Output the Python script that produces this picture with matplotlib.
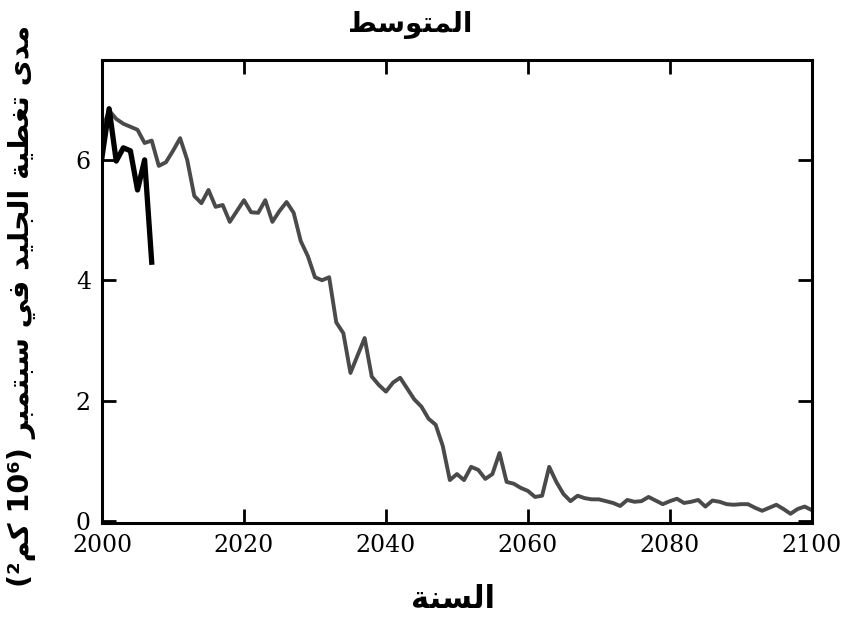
import matplotlib
matplotlib.use('Agg')
import matplotlib.pyplot as plt

# model mean, september ice extent (10^6 km2)
years = list(range(2000, 2101))
model_mean = [
    6.50, 6.82, 6.68, 6.60, 6.55, 6.50, 6.28, 6.32, 5.90, 5.96,
    6.15, 6.36, 6.00, 5.40, 5.28, 5.50, 5.22, 5.25, 4.97, 5.15,
    5.33, 5.13, 5.12, 5.33, 4.97, 5.15, 5.30, 5.12, 4.65, 4.40,
    4.05, 4.00, 4.05, 3.30, 3.12, 2.46, 2.75, 3.04, 2.40, 2.26,
    2.15, 2.30, 2.38, 2.20, 2.02, 1.90, 1.70, 1.60, 1.25, 0.68,
    0.78, 0.68, 0.90, 0.85, 0.70, 0.78, 1.13, 0.65, 0.62, 0.55,
    0.50, 0.40, 0.42, 0.90, 0.65, 0.45, 0.33, 0.42, 0.38, 0.36,
    0.36, 0.33, 0.30, 0.25, 0.35, 0.32, 0.33, 0.40, 0.34, 0.28,
    0.33, 0.37, 0.30, 0.32, 0.35, 0.24, 0.34, 0.32, 0.28, 0.27,
    0.28, 0.28, 0.22, 0.17, 0.22, 0.27, 0.20, 0.12, 0.20, 0.24,
    0.18,
]

# observations
obs_years = [2000, 2001, 2002, 2003, 2004, 2005, 2006, 2007]
observed = [6.05, 6.85, 5.98, 6.20, 6.15, 5.50, 6.00, 4.30]

xticks = [2000, 2020, 2040, 2060, 2080, 2100]
yticks = [0, 2, 4, 6]

# arabic text in visual order (presentation forms)
title_txt = '\ufec2\ufeb3\ufeee\ufe98\ufee4\ufedf\ufe8d'
xlabel_txt = '\ufe94\ufee8\ufeb4\ufedf\ufe8d'
ylabel_txt = ('(\u00b2\ufee2\ufedb 10\u2076) '
              '\ufeae\ufe92\ufee4\ufe98\ufe92\ufeb3 '
              '\ufef2\ufed3 '
              '\ufeaa\ufef4\ufee0\ufea0\ufedf\ufe8d '
              '\ufe94\ufef4\ufec4\ufed0\ufe97 '
              '\ufeef\ufeaa\ufee3')

fig = plt.figure(figsize=(8.46, 6.18), dpi=100)
ax = fig.add_axes([0.1206, 0.154, 0.839, 0.749])

ax.plot(years, model_mean, color='#4a4a4a', lw=2.8)
ax.plot(obs_years, observed, color='black', lw=3.8)

ax.set_xlim(2000, 2100)
ax.set_ylim(-0.03, 7.66)
ax.set_xticks(xticks)
ax.set_yticks(yticks)
ax.tick_params(direction='in', length=10, width=2, top=True, right=True,
               labelsize=17, pad=8)
for lab in ax.get_xticklabels() + ax.get_yticklabels():
    lab.set_family('DejaVu Serif')
for s in ax.spines.values():
    s.set_linewidth(2.2)

fig.text(0.485, 0.960, title_txt, ha='center', va='center', fontsize=20,
         fontweight='bold', family=['DejaVu Sans'])
fig.text(0.536, 0.03, xlabel_txt, ha='center', va='center', fontsize=22,
         fontweight='bold', family=['DejaVu Sans'])
fig.text(0.026, 0.505, ylabel_txt, ha='center', va='center', rotation=90,
         fontsize=20.5, fontweight='bold', family=['DejaVu Sans'])

fig.savefig('out.png', dpi=100)
